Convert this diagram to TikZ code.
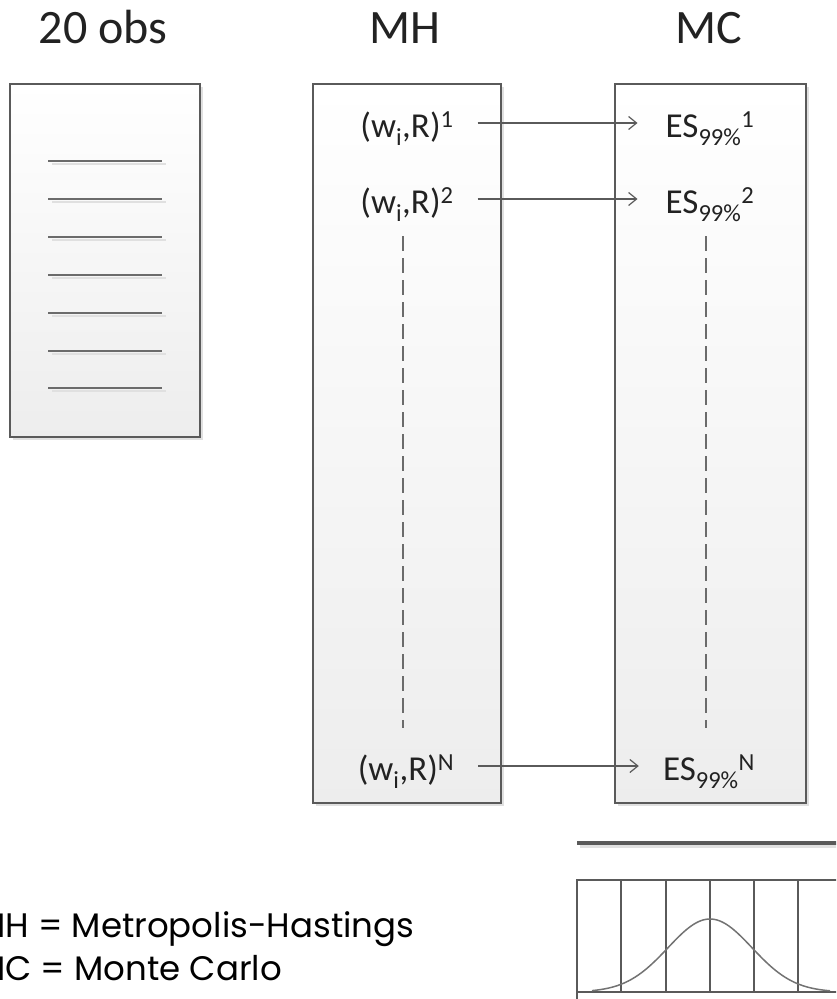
\documentclass[tikz,border=0pt]{standalone}
\usepackage{fontspec}
\setmainfont{Carlito}
\newfontfamily\gothic{Poppins}
\usetikzlibrary{arrows.meta,shadows}
\definecolor{edge}{HTML}{5A5A5A}
\definecolor{ink}{HTML}{222222}
\tikzset{
  panel/.style={draw=edge, line width=1.5pt, top color=white, bottom color=black!7,
    drop shadow={shadow xshift=3pt, shadow yshift=-3pt, fill=black!20, opacity=0.6},
    inner sep=0pt},
  title/.style={font=\fontsize{48}{56}\selectfont, text=ink, inner sep=0pt, anchor=base},
  lab/.style={font=\fontsize{35}{40}\selectfont, text=ink, inner sep=0pt, anchor=base},
  rule/.style={draw=edge!90, line width=1.5pt},
  ruleshadow/.style={draw=black!12, line width=1.5pt},
  arr/.style={draw=edge, line width=1.2pt, -{Straight Barb[length=8pt,width=13pt,line width=1.2pt]}},
  dsh/.style={draw=edge!90, line width=1.3pt, dash pattern=on 15pt off 7pt},
  legend/.style={font=\gothic\fontsize{34}{40}\selectfont, text=black, inner sep=0pt, anchor=base west},
  hist/.style={draw=edge, line width=1.3pt},
}
\begin{document}
\begin{tikzpicture}[x=1pt,y=-1pt]
\useasboundingbox (0,0) rectangle (836,999);
\clip (0,0) rectangle (836,999);
% titles
\node[title] (t1) at (103,43) {20 obs};
\node[title] (t2) at (405,43) {MH};
\node[title] (t3) at (709,43) {MC};
% boxes
\node[panel, minimum width=190pt, minimum height=353pt] (obs) at (105,260.5) {};
\node[panel, minimum width=188pt, minimum height=719pt] (mh) at (407,443.5) {};
\node[panel, minimum width=191pt, minimum height=719pt] (mc) at (710.5,443.5) {};
% lines in obs box
\foreach \y in {161,199,237,275,313,351,388}{
  \draw[ruleshadow] (52,\y+3) -- (166,\y+3);
  \draw[rule] (48,\y) -- (162,\y);
}
% labels
\node[lab] (l1) at (407,137) {(w\textsubscript{i},R)\textsuperscript{1}};
\node[lab] (l2) at (407,213) {(w\textsubscript{i},R)\textsuperscript{2}};
\node[lab] (lN) at (406,780) {(w\textsubscript{i},R)\textsuperscript{N}};
\node[lab] (e1) at (710,137) {ES\textsubscript{99\%}\textsuperscript{1}};
\node[lab] (e2) at (710,213) {ES\textsubscript{99\%}\textsuperscript{2}};
\node[lab] (eN) at (709,780) {ES\textsubscript{99\%}\textsuperscript{N}};
% arrows
\draw[arr] ([xshift=24pt,yshift=14pt]l1.base east) -- ([xshift=-28pt,yshift=14pt]e1.base west);
\draw[arr] ([xshift=24pt,yshift=14pt]l2.base east) -- ([xshift=-28pt,yshift=14pt]e2.base west);
\draw[arr] ([xshift=24pt,yshift=14pt]lN.base east) -- ([xshift=-24pt,yshift=14pt]eN.base west);
% dashed
\coordinate (d1a) at (403,236);
\coordinate (d1b) at (403,728);
\coordinate (d2a) at (706,236);
\coordinate (d2b) at (706,728);
\draw[dsh] (d1a) -- (d1b);
\draw[dsh] (d2a) -- (d2b);
% bottom thick line
\draw[draw=black!12, line width=3.5pt] (580,846) -- (840,846);
\draw[draw=edge, line width=3.5pt] (577,843) -- (840,843);
% histogram
\draw[hist] (577,999) -- (577,880) -- (840,880);
\draw[hist] (577,992) -- (840,992);
\foreach \x in {621,666,710,754,798}{
  \draw[hist] (\x,880) -- (\x,992);
}
\draw[draw=black!55, line width=1.5pt, domain=592:830, samples=120, smooth]
  plot (\x,{992-73*exp(-0.5*((\x-710)/42)^2)});
% legend
\node[legend] (m1) at (-24,937) {MH = Metropolis-Hastings};
\node[legend] (m2) at (-24,980) {MC = Monte Carlo};
\end{tikzpicture}
\end{document}
